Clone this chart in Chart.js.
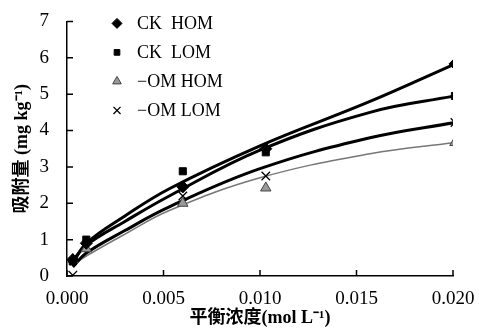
<!DOCTYPE html>
<html>
<head>
<meta charset="utf-8">
<script src="https://cdn.jsdelivr.net/npm/chart.js@4/dist/chart.umd.min.js"></script>
<style>
    body { margin: 0; background: #fff; }
    #chart { display: block; }
</style>
</head>
<body>
<canvas id="chart" width="479" height="329"></canvas>
<script>
// measured points (mol L-1 / mg kg-1)
const concMeasured = [0.0003, 0.001, 0.006, 0.0103, 0.0201];
const ckHom = [0.45, 0.9, 2.45, 3.5, 5.83];
const ckLom = [0.4, 1.0, 2.88, 3.4, 4.95];
const omHom = [0.45, 0.75, 2.0, 2.42, 3.67];
const omLom = [0.02, 0.8, 2.2, 2.75, 4.22];

// fitted curves
const concFit = [0.0003, 0.001, 0.003, 0.0053, 0.010, 0.0157, 0.0201];
const ckHomFit = [0.35, 0.9, 1.65, 2.4, 3.58, 4.8, 5.83];
const ckLomFit = [0.42, 0.85, 1.5, 2.2, 3.46, 4.5, 4.95];
const omLomFit = [0.25, 0.63, 1.25, 1.9, 2.95, 3.8, 4.22];
const omHomFit = [0.3, 0.55, 1.15, 1.8, 2.7, 3.36, 3.67];

const seriesLabels = ["CK  HOM", "CK  LOM", "\u2212OM HOM", "\u2212OM LOM"];
const xTicks = [0, 0.005, 0.010, 0.015, 0.020];
const yTicks = [0, 1, 2, 3, 4, 5, 6, 7];

const serif = "'Liberation Serif', 'Noto Sans CJK SC', serif";

function toPoints(xs, ys) {
    return xs.map((x, i) => ({x: x, y: ys[i]}));
}

function fitLine(ys, color, width) {
    return {
        type: 'line',
        data: toPoints(concFit, ys),
        borderColor: color,
        borderWidth: width,
        pointRadius: 0,
        tension: 0.4,
        fill: false,
    };
}

const markers = [
    {data: ckHom, style: 'rectRot', radius: 6, fill: '#000', border: '#000', bw: 1},
    {data: ckLom, style: 'rect', radius: 5, fill: '#000', border: '#000', bw: 1},
    {data: omHom, style: 'triangle', radius: 6, fill: '#999', border: '#444', bw: 1},
    {data: omLom, style: 'crossRot', radius: 6, fill: '#000', border: '#000', bw: 1.3},
];

const datasets = markers.map((m, i) => ({
    type: 'scatter',
    label: seriesLabels[i],
    data: toPoints(concMeasured, m.data),
    pointStyle: m.style,
    pointRadius: m.radius,
    backgroundColor: m.fill,
    borderColor: m.border,
    borderWidth: m.bw,
}));
datasets.push(fitLine(ckHomFit, '#000', 3));
datasets.push(fitLine(ckLomFit, '#000', 3));
datasets.push(fitLine(omLomFit, '#000', 3));
datasets.push(fitLine(omHomFit, '#777', 1.5));

// inward tick marks + legend in the top-left of the plot
const extras = {
    id: 'extras',
    afterDraw(chart) {
        const ctx = chart.ctx;
        const xs = chart.scales.x;
        const ys = chart.scales.y;
        ctx.save();
        ctx.strokeStyle = '#000';
        ctx.lineWidth = 1.5;
        ctx.beginPath();
        for (const v of xTicks) {
            const px = xs.getPixelForValue(v);
            ctx.moveTo(px, ys.bottom);
            ctx.lineTo(px, ys.bottom - 6);
        }
        for (const v of yTicks) {
            const py = ys.getPixelForValue(v);
            ctx.moveTo(xs.left, py);
            ctx.lineTo(xs.left + 6, py);
        }
        ctx.stroke();

        ctx.font = '18px ' + serif;
        ctx.textBaseline = 'middle';
        for (let i = 0; i < markers.length; i++) {
            const m = markers[i];
            const y = chart.chartArea.top + 2 + i * 29;
            ctx.fillStyle = m.fill;
            ctx.strokeStyle = m.border;
            ctx.lineWidth = m.bw;
            Chart.helpers.drawPoint(ctx, {pointStyle: m.style, radius: m.radius - 1, rotation: 0, borderWidth: m.bw}, 117, y);
            ctx.fillStyle = '#000';
            ctx.fillText(seriesLabels[i], 137, y + 1);
        }
        ctx.restore();
    }
};

new Chart(document.getElementById('chart'), {
    data: {datasets: datasets},
    options: {
        responsive: false,
        animation: false,
        layout: {padding: {top: 21, right: 26, left: 12, bottom: 0}},
        plugins: {
            legend: {display: false},
            tooltip: {enabled: false},
        },
        scales: {
            x: {
                type: 'linear',
                min: 0,
                max: 0.020,
                afterBuildTicks: (s) => { s.ticks = xTicks.map(v => ({value: v})); },
                afterFit: (s) => { s.height = 53; },
                grid: {display: false},
                border: {display: true, color: '#000', width: 1.5},
                ticks: {
                    color: '#000',
                    padding: 4,
                    font: {family: serif, size: 19},
                    callback: (v) => v.toFixed(3),
                },
                title: {
                    display: true,
                    text: '平衡浓度(mol L\u207B\u00B9)',
                    color: '#000',
                    padding: {top: 0, bottom: 0},
                    font: {family: serif, size: 18, weight: 'bold'},
                },
            },
            y: {
                type: 'linear',
                min: 0,
                max: 7,
                afterBuildTicks: (s) => { s.ticks = yTicks.map(v => ({value: v})); },
                afterFit: (s) => { s.width = 55; },
                grid: {display: false},
                border: {display: true, color: '#000', width: 1.5},
                ticks: {
                    color: '#000',
                    padding: 10,
                    font: {family: serif, size: 19},
                },
                title: {
                    display: true,
                    text: '吸附量 (mg kg\u207B\u00B9)',
                    color: '#000',
                    padding: {top: 0, bottom: 0},
                    font: {family: serif, size: 18, weight: 'bold'},
                },
            },
        },
    },
    plugins: [extras],
});
</script>
</body>
</html>
